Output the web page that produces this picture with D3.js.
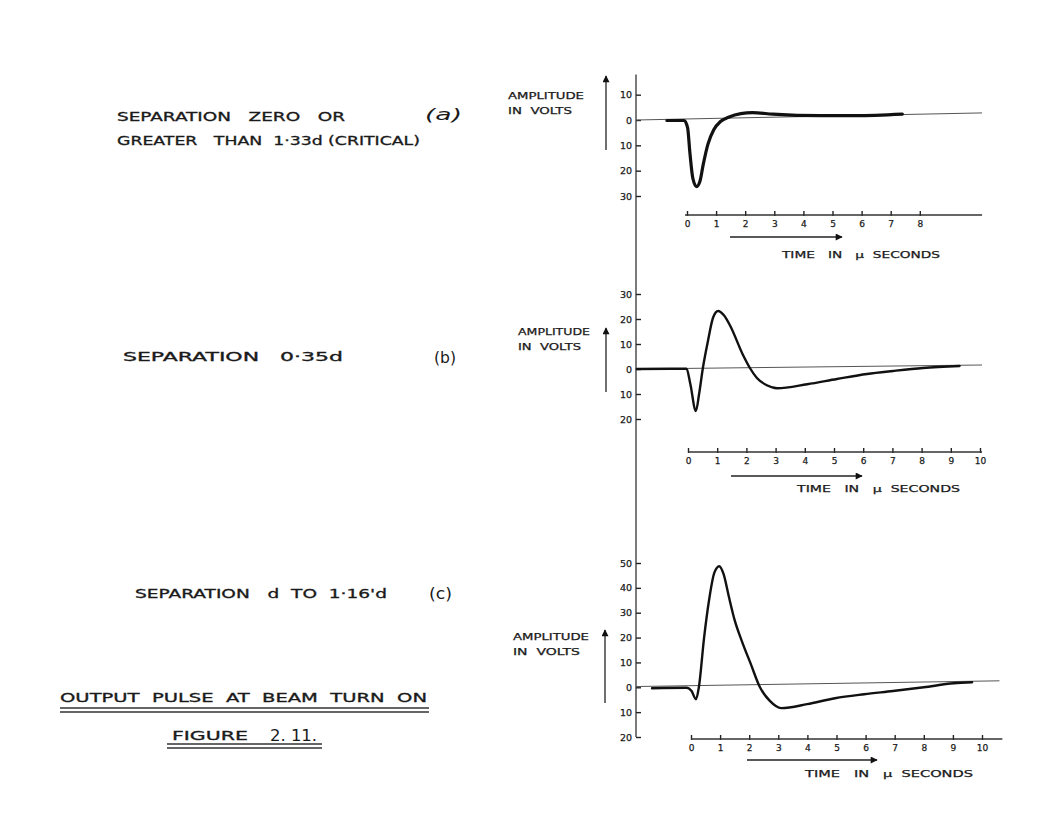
<!DOCTYPE html>
<meta charset="utf-8">
<head>
<style>
    body { margin: 0; background: #fff; }
    svg { display: block; background: #fff; }
    text { font-family: "DejaVu Sans", Arial, sans-serif; fill: #1a1a1a; white-space: pre; }
    .caption { font-size: 11.5px; stroke: #1a1a1a; stroke-width: 0.3; }
    .paren { font-size: 16px; }
    .axlabel { font-size: 9px; stroke: #1a1a1a; stroke-width: 0.25; }
    .tick text { font-size: 9px; fill: #1a1a1a; stroke: #1a1a1a; stroke-width: 0.25; }
    .tick line { stroke: #222; stroke-width: 1.4; }
    .pulse { fill: none; stroke: #111; stroke-linejoin: round; stroke-linecap: round; }
    .zero { stroke: #555; stroke-width: 1; fill: none; }
    .rule { stroke: #333; stroke-width: 1.3; }
</style>
<script src="https://d3js.org/d3.v7.min.js"></script>
</head>
<body>
<script>

    // ---- data ----
    // time in micro seconds, amplitude in volts
    var timeTicksA = [0, 1, 2, 3, 4, 5, 6, 7, 8];
    var timeTicksBC = [0, 1, 2, 3, 4, 5, 6, 7, 8, 9, 10];

    var voltTicksA = [10, 0, -10, -20, -30];
    var voltLabelsA = ["10", "0", "10", "20", "30"];
    var voltTicksB = [30, 20, 10, 0, -10, -20];
    var voltLabelsB = ["30", "20", "10", "0", "10", "20"];
    var voltTicksC = [50, 40, 30, 20, 10, 0, -10, -20];
    var voltLabelsC = ["50", "40", "30", "20", "10", "0", "10", "20"];

    // (a) separation zero or > 1.33d
    var pulseA = [[-0.69, -0.2], [-0.1, -0.2], [0.02, -3], [0.1, -13], [0.2, -23], [0.33, -26.3],
        [0.45, -24], [0.55, -18], [0.72, -9.5], [0.92, -3.8], [1.15, -0.6], [1.45, 1.2],
        [1.85, 2.5], [2.25, 2.9], [2.95, 2.3], [4.6, 1.7], [5.8, 1.7], [7.4, 2.3]];
    // (b) separation 0.35d
    var pulseB = [[-1.75, 0], [-0.05, 0.1], [0.08, -6], [0.27, -16.8], [0.38, -10],
        [0.51, 0.4], [0.68, 11], [0.86, 20.6], [1.03, 23.2], [1.23, 21.5], [1.44, 17.4], [1.88, 5.7],
        [2.12, 0.4], [2.36, -3.6], [2.7, -6.5], [3.05, -7.7], [4.08, -6.1], [5.1, -4.0], [6.13, -2.0],
        [7.02, -0.8], [8.05, 0.4], [9.3, 1.2]];
    // (c) separation d to 1.16d
    var pulseC = [[-1.34, -0.4], [-0.14, -0.2], [0.02, -1.5], [0.17, -4.8], [0.27, 0], [0.45, 20],
        [0.62, 35], [0.8, 46], [0.97, 48.7], [1.12, 45.5], [1.3, 36.5], [1.5, 27], [1.75, 18.5],
        [2.05, 9.5], [2.37, 0], [2.71, -5.5], [3.1, -8.4], [3.99, -6.8],
        [4.95, -4.4], [5.95, -2.8], [6.94, -1.5], [8.0, 0], [9.03, 1.6], [9.66, 2]];

    // hand drawn zero lines (slightly tilted)
    var baselineA = [[-1.75, 0], [10.14, 2.8]];
    var baselineB = [[-1.78, 0], [10.07, 1.6]];
    var baselineC = [[-1.89, 0.3], [10.6, 2.6]];

    // extent of each time axis rule
    var timeRuleA = [-0.07, 10.14];
    var timeRuleB = [0, 10.07];
    var timeRuleC = [0, 10.7];

    var captions = ["SEPARATION   ZERO   OR", "GREATER   THAN  1·33d (CRITICAL)",
        "SEPARATION   0·35d", "SEPARATION   d  TO  1·16'd"];
    var partLabels = ["(a)", "(b)", "(c)"];
    var title = "OUTPUT  PULSE  AT  BEAM  TURN  ON";
    var figLabel = ["FIGURE", "2. 11."];

    // ---- drawing ----
    var width = 1050, height = 813;

    var svg = d3.select("body").append("svg")
        .attr("width", width)
        .attr("height", height);

    var axisX = 636;

    var panels = [
        {
            pulse: pulseA, base: baselineA, rule: timeRuleA, tt: timeTicksA, vt: voltTicksA, vl: voltLabelsA,
            x: d3.scaleLinear().domain([0, 10]).range([687, 978]),
            y: d3.scaleLinear().domain([0, -30]).range([120, 196]),
            ruleY: 215, width: 3.2,
            amp: {x: 508, y: 99, w1: 76, w2: 64, ax: 606, top: 76, bot: 150},
            time: {x: 782, y: 258, w: 158, a0: 730, a1: 842, ay: 237}
        },
        {
            pulse: pulseB, base: baselineB, rule: timeRuleB, tt: timeTicksBC, vt: voltTicksB, vl: voltLabelsB,
            x: d3.scaleLinear().domain([0, 10]).range([688, 980]),
            y: d3.scaleLinear().domain([0, -20]).range([369, 419]),
            ruleY: 452, width: 2.4,
            amp: {x: 518, y: 335, w1: 72, w2: 63, ax: 606, top: 328, bot: 392},
            time: {x: 797, y: 492, w: 163, a0: 731, a1: 862, ay: 476}
        },
        {
            pulse: pulseC, base: baselineC, rule: timeRuleC, tt: timeTicksBC, vt: voltTicksC, vl: voltLabelsC,
            x: d3.scaleLinear().domain([0, 10]).range([691, 982]),
            y: d3.scaleLinear().domain([50, -20]).range([563, 737]),
            ruleY: 739, width: 2.4,
            amp: {x: 513, y: 640, w1: 76, w2: 67, ax: 605, top: 630, bot: 703},
            time: {x: 805, y: 777, w: 168, a0: 747, a1: 877, ay: 760}
        }
    ];

    // arrow head
    svg.append("defs").append("marker")
        .attr("id", "head")
        .attr("viewBox", "0 0 10 10")
        .attr("refX", 9).attr("refY", 5)
        .attr("markerWidth", 9).attr("markerHeight", 7)
        .attr("markerUnits", "userSpaceOnUse")
        .attr("orient", "auto")
        .append("path")
        .attr("d", "M0,0L10,5L0,10z")
        .attr("fill", "#111");

    // one long amplitude rule shared by the three graphs
    svg.append("line")
        .attr("class", "rule")
        .attr("x1", axisX).attr("x2", axisX)
        .attr("y1", panels[0].y(18)).attr("y2", panels[2].y(-20));

    panels.forEach(function (p) {
        var g = svg.append("g");

        // amplitude ticks: dash right of the rule, label on the left
        var yAxis = d3.axisRight(p.y)
            .tickValues(p.vt)
            .tickFormat(function (d, i) { return p.vl[i]; })
            .tickSize(5);
        var ya = g.append("g")
            .attr("transform", "translate(" + axisX + ",0)")
            .call(yAxis);
        ya.select(".domain").remove();
        ya.selectAll("text")
            .attr("x", -4)
            .attr("text-anchor", "end")
            .style("font-size", "9.5px");

        // time axis
        var xAxis = d3.axisBottom(p.x)
            .tickValues(p.tt)
            .tickSizeInner(-5)
            .tickSizeOuter(0)
            .tickPadding(6);
        var xa = g.append("g")
            .attr("transform", "translate(0," + p.ruleY + ")")
            .call(xAxis);
        xa.select(".domain").remove();
        xa.selectAll(".tick line").attr("y1", 1).attr("y2", -4);
        g.append("line")
            .attr("class", "rule")
            .attr("x1", p.x(p.rule[0])).attr("x2", p.x(p.rule[1]))
            .attr("y1", p.ruleY).attr("y2", p.ruleY);

        // zero line
        g.append("line")
            .attr("class", "zero")
            .attr("x1", p.x(p.base[0][0])).attr("y1", p.y(p.base[0][1]))
            .attr("x2", p.x(p.base[1][0])).attr("y2", p.y(p.base[1][1]));

        // the pulse
        var line = d3.line()
            .x(function (d) { return p.x(d[0]); })
            .y(function (d) { return p.y(d[1]); })
            .curve(d3.curveMonotoneX);
        g.append("path")
            .datum(p.pulse)
            .attr("class", "pulse")
            .attr("stroke-width", p.width)
            .attr("d", line);

        // amplitude label + arrow
        g.append("text").attr("class", "axlabel")
            .attr("x", p.amp.x).attr("y", p.amp.y)
            .attr("textLength", p.amp.w1).attr("lengthAdjust", "spacingAndGlyphs")
            .text("AMPLITUDE");
        g.append("text").attr("class", "axlabel")
            .attr("x", p.amp.x).attr("y", p.amp.y + 15)
            .attr("textLength", p.amp.w2).attr("lengthAdjust", "spacingAndGlyphs")
            .text("IN  VOLTS");
        g.append("line")
            .attr("x1", p.amp.ax).attr("x2", p.amp.ax)
            .attr("y1", p.amp.bot).attr("y2", p.amp.top)
            .attr("stroke", "#222").attr("stroke-width", 1.3)
            .attr("marker-end", "url(#head)");

        // time label + arrow
        g.append("line")
            .attr("x1", p.time.a0).attr("x2", p.time.a1)
            .attr("y1", p.time.ay).attr("y2", p.time.ay)
            .attr("stroke", "#222").attr("stroke-width", 1.6)
            .attr("marker-end", "url(#head)");
        g.append("text").attr("class", "axlabel")
            .attr("x", p.time.x).attr("y", p.time.y)
            .attr("textLength", p.time.w).attr("lengthAdjust", "spacingAndGlyphs")
            .text("TIME   IN   µ  SECONDS");
    });

    // left hand captions
    var capPos = [[117, 121, 228], [117, 145, 303], [123, 361, 220], [135, 598, 252]];
    svg.selectAll("text.caption")
        .data(captions)
        .enter().append("text")
        .attr("class", "caption")
        .attr("x", function (d, i) { return capPos[i][0]; })
        .attr("y", function (d, i) { return capPos[i][1]; })
        .attr("textLength", function (d, i) { return capPos[i][2]; })
        .attr("lengthAdjust", "spacingAndGlyphs")
        .text(function (d) { return d; });

    var parenPos = [[425, 120, 37], [434, 363, 22], [429, 599, 23]];
    svg.selectAll("text.paren")
        .data(partLabels)
        .enter().append("text")
        .attr("class", "paren")
        .attr("x", function (d, i) { return parenPos[i][0]; })
        .attr("y", function (d, i) { return parenPos[i][1]; })
        .attr("textLength", function (d, i) { return parenPos[i][2]; })
        .attr("lengthAdjust", "spacingAndGlyphs")
        .style("font-style", function (d, i) { return i === 0 ? "italic" : null; })
        .text(function (d) { return d; });

    // title with double underline
    svg.append("text")
        .attr("class", "caption")
        .attr("x", 60).attr("y", 702)
        .attr("textLength", 367).attr("lengthAdjust", "spacingAndGlyphs")
        .text(title);
    [708, 712].forEach(function (yy) {
        svg.append("line").attr("class", "rule")
            .attr("x1", 60).attr("x2", 429).attr("y1", yy).attr("y2", yy)
            .attr("stroke-width", 1.6);
    });

    svg.append("text")
        .attr("class", "caption")
        .attr("x", 172).attr("y", 740)
        .attr("textLength", 76).attr("lengthAdjust", "spacingAndGlyphs")
        .text(figLabel[0]);
    svg.append("text")
        .attr("x", 270).attr("y", 741)
        .attr("textLength", 47).attr("lengthAdjust", "spacingAndGlyphs")
        .style("font-size", "16px")
        .text(figLabel[1]);
    [744, 748].forEach(function (yy) {
        svg.append("line").attr("class", "rule")
            .attr("x1", 167).attr("x2", 322).attr("y1", yy).attr("y2", yy)
            .attr("stroke-width", 1.6);
    });

</script>
</body>
</html>
